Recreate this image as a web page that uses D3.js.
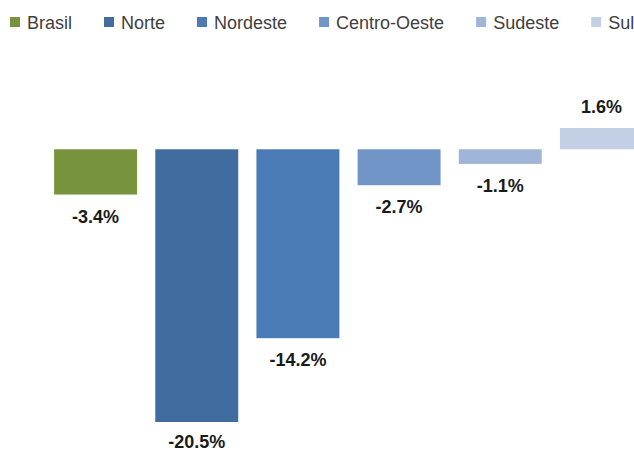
<!DOCTYPE html>
<html>
<head>
<meta charset="utf-8">
<script src="https://cdn.jsdelivr.net/npm/d3@7/dist/d3.min.js"></script>
<style>
  body { margin: 0; background: #fff; overflow: hidden; }
  svg { display: block; }
</style>
</head>
<body>
<div id="chart"></div>
<script>
var regions = ["Brasil", "Norte", "Nordeste", "Centro-Oeste", "Sudeste", "Sul"];
var values = [-3.4, -20.5, -14.2, -2.7, -1.1, 1.6];
var colors = ["#77933c", "#416ca0", "#4a7bb5", "#7295c7", "#a1b5d9", "#c3cfe4"];

var width = 634, height = 452;

var svg = d3.select("#chart")
    .append("svg")
    .attr("width", width)
    .attr("height", height);

// plot runs past the right edge, the Sul bar is cut off like in the original
var x = d3.scaleBand()
    .domain(regions)
    .range([45, 652])
    .paddingInner(0.18)
    .paddingOuter(0.09);

var y = d3.scaleLinear()
    .domain([-20.5, 1.6])
    .range([422, 128]);

var fmt = d => d.toFixed(1) + "%";

svg.selectAll("rect.bar")
  .data(values)
  .enter().append("rect")
    .attr("class", "bar")
    .attr("x", (d, i) => x(regions[i]))
    .attr("width", x.bandwidth())
    .attr("y", d => y(Math.max(0, d)))
    .attr("height", d => Math.abs(y(d) - y(0)))
    .attr("fill", (d, i) => colors[i]);

svg.selectAll("text.lbl")
  .data(values)
  .enter().append("text")
    .attr("class", "lbl")
    .attr("x", (d, i) => x(regions[i]) + x.bandwidth() / 2)
    .attr("y", d => d < 0 ? Math.min(y(d) + 28, 448) : y(d) - 15)
    .attr("text-anchor", "middle")
    .attr("font-family", "'Liberation Sans', Arial, sans-serif")
    .attr("font-weight", "bold")
    .attr("font-size", 18)
    .attr("fill", "#1a1a1a")
    .text(fmt);

// Legend
var legend = svg.append("g").attr("transform", "translate(10,0)");
var lx = 0;
regions.forEach(function(r, i) {
  var g = legend.append("g").attr("transform", "translate(" + lx + ",0)");
  g.append("rect")
    .attr("x", 0)
    .attr("y", 17)
    .attr("width", 10)
    .attr("height", 10)
    .attr("fill", colors[i]);
  var t = g.append("text")
    .attr("x", 17)
    .attr("y", 29)
    .attr("font-family", "'Liberation Sans', Arial, sans-serif")
    .attr("font-size", 18)
    .attr("fill", "#404040")
    .text(r);
  lx += 17 + t.node().getComputedTextLength() + 32;
});
</script>
</body>
</html>
